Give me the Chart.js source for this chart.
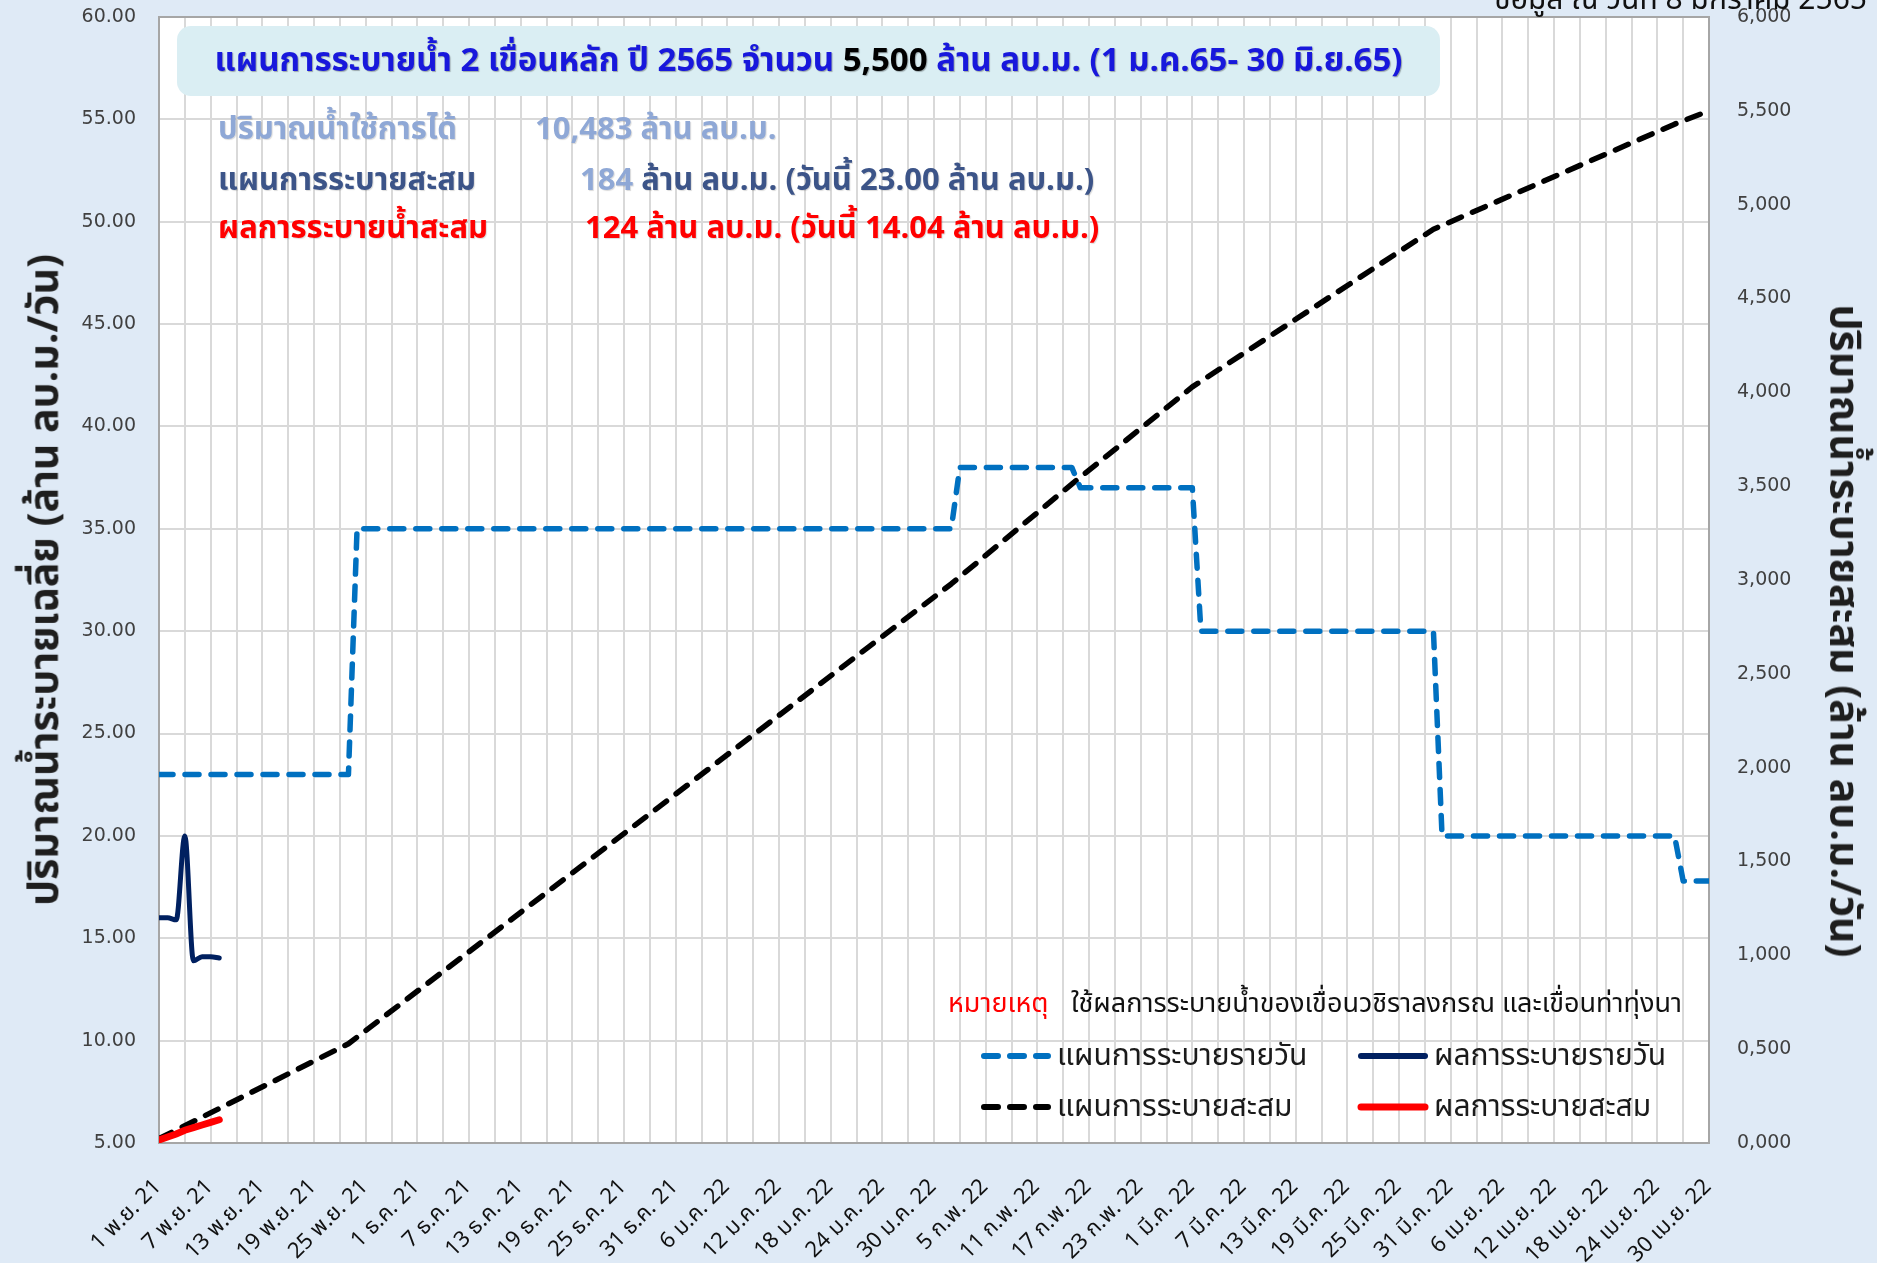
<!DOCTYPE html>
<html lang="th">
<head>
<meta charset="utf-8">
<title>แผนการระบายน้ำ 2 เขื่อนหลัก ปี 2565</title>
<script src="https://cdn.jsdelivr.net/npm/chart.js@4.4.1/dist/chart.umd.min.js"></script>
<style>
  html, body { margin: 0; padding: 0; background: #DFEAF6; overflow: hidden; }
  #wrap { position: relative; width: 1877px; height: 1263px; overflow: hidden; }
  #chart { position: absolute; left: 0; top: 0; }
  .txt {
    position: absolute; white-space: nowrap; line-height: 1;
    font-family: "Noto Sans Thai", Tahoma, "Noto Sans", sans-serif;
    transform: translateY(-50%);
  }
  #titleBox {
    position: absolute; left: 177px; top: 26px; width: 1263px; height: 70px;
    background: #DAEEF3; border-radius: 14px;
  }
  #titleText {
    left: 0; width: 1263px; text-align: center; top: 35px;
    font-size: 33px; font-weight: bold; color: #1818DC;
    text-shadow: 1px 1px 1px rgba(0,0,0,0.3);
  }
  .info { font-size: 31px; font-weight: bold; text-shadow: 1px 1px 1px rgba(0,0,0,0.15); }
  .axisTitle { font-size: 41px; font-weight: bold; color: #1e1e1e; transform-origin: center center; }
  .leg { font-size: 30px; color: #1a1a1a; }
  svg.sample { position: absolute; }
</style>
</head>
<body>
<div id="wrap">
  <canvas id="chart" width="1877" height="1263"></canvas>

  <div class="txt" style="right: 10px; top: 0px; font-size: 30px; color: #111;">ข้อมูล ณ วันที่ 8 มกราคม 2565</div>

  <div id="titleBox">
    <div id="titleText" class="txt">แผนการระบายน้ำ 2 เขื่อนหลัก ปี 2565 จำนวน <span style="color:#000">5,500</span> ล้าน ลบ.ม. (1 ม.ค.65- 30 มิ.ย.65)</div>
  </div>

  <div class="txt info" style="left: 218px; top: 129px; color: #8FA8D6;">ปริมาณน้ำใช้การได้</div>
  <div class="txt info" style="left: 535px; top: 129px; color: #8FA8D6;">10,483 ล้าน ลบ.ม.</div>
  <div class="txt info" style="left: 218px; top: 180px; color: #3C5488;">แผนการระบายสะสม</div>
  <div class="txt info" style="left: 580px; top: 180px; color: #3C5488;"><span style="color:#8FA8D6">184</span> ล้าน ลบ.ม. (วันนี้ 23.00 ล้าน ลบ.ม.)</div>
  <div class="txt info" style="left: 218px; top: 228px; color: #FF0000;">ผลการระบายน้ำสะสม</div>
  <div class="txt info" style="left: 585px; top: 228px; color: #FF0000;">124 ล้าน ลบ.ม. (วันนี้ 14.04 ล้าน ลบ.ม.)</div>

  <div class="txt axisTitle" id="leftTitle">ปริมาณน้ำระบายเฉลี่ย (ล้าน ลบ.ม./วัน)</div>
  <div class="txt axisTitle" id="rightTitle">ปริมาณน้ำระบายสะสม (ล้าน ลบ.ม./วัน)</div>

  <div class="txt" style="left: 948px; top: 1003px; font-size: 27px; color: #FF0000;">หมายเหตุ</div>
  <div class="txt" style="left: 1071px; top: 1003px; font-size: 27px; color: #111;">ใช้ผลการระบายน้ำของเขื่อนวชิราลงกรณ และเขื่อนท่าทุ่งนา</div>

  <svg class="sample" style="left: 980px; top: 1046px;" width="72" height="20"><line x1="4" y1="10" x2="68" y2="10" stroke="#0070C0" stroke-width="6" stroke-linecap="round" stroke-dasharray="14 12"/></svg>
  <div class="txt leg" style="left: 1057px; top: 1056px;">แผนการระบายรายวัน</div>
  <svg class="sample" style="left: 1357px; top: 1046px;" width="72" height="20"><line x1="4" y1="10" x2="68" y2="10" stroke="#002060" stroke-width="6" stroke-linecap="round"/></svg>
  <div class="txt leg" style="left: 1434px; top: 1056px;">ผลการระบายรายวัน</div>
  <svg class="sample" style="left: 980px; top: 1097px;" width="72" height="20"><line x1="4" y1="10" x2="68" y2="10" stroke="#000" stroke-width="6" stroke-linecap="round" stroke-dasharray="14 12"/></svg>
  <div class="txt leg" style="left: 1057px; top: 1107px;">แผนการระบายสะสม</div>
  <svg class="sample" style="left: 1357px; top: 1097px;" width="72" height="20"><line x1="4" y1="10" x2="68" y2="10" stroke="#FF0000" stroke-width="7" stroke-linecap="round"/></svg>
  <div class="txt leg" style="left: 1434px; top: 1107px;">ผลการระบายสะสม</div>
</div>

<script>
// x tick labels, one every 6 days starting 1 Nov
const tickLabels = [
  '1 พ.ย. 21', '7 พ.ย. 21', '13 พ.ย. 21', '19 พ.ย. 21', '25 พ.ย. 21',
  '1 ธ.ค. 21', '7 ธ.ค. 21', '13 ธ.ค. 21', '19 ธ.ค. 21', '25 ธ.ค. 21', '31 ธ.ค. 21',
  '6 ม.ค. 22', '12 ม.ค. 22', '18 ม.ค. 22', '24 ม.ค. 22', '30 ม.ค. 22',
  '5 ก.พ. 22', '11 ก.พ. 22', '17 ก.พ. 22', '23 ก.พ. 22',
  '1 มี.ค. 22', '7 มี.ค. 22', '13 มี.ค. 22', '19 มี.ค. 22', '25 มี.ค. 22', '31 มี.ค. 22',
  '6 เม.ย. 22', '12 เม.ย. 22', '18 เม.ย. 22', '24 เม.ย. 22', '30 เม.ย. 22'
];

// daily release plan (day index, million m3/day) - break points of the step line
const planDay   = [0, 22, 23, 92, 93, 106, 107, 120, 121, 148, 149, 176, 177, 180];
const planDaily = [23, 23, 35, 35, 38, 38, 37, 37, 30, 30, 20, 20, 17.8, 17.8];

// cumulative plan (day index, million m3)
const cumDay  = [0, 22, 92, 106, 120, 148, 176, 180];
const planCum = [23, 529, 2979, 3511, 4029, 4869, 5429, 5500];

// actual releases so far
const actualDay   = [0, 1, 2, 3, 4, 5, 6, 7];
const actualDaily = [16.0, 16.0, 15.9, 20.0, 13.9, 14.1, 14.1, 14.04];
const actualCum   = [16.0, 32.0, 47.9, 67.9, 81.8, 95.9, 110.0, 124.0];

const pts = (xs, ys) => xs.map((x, i) => ({ x: x, y: ys[i] }));

// axis titles are plain divs, rotated into place
const lt = document.getElementById('leftTitle');
lt.style.left = (45 - lt.offsetWidth / 2) + 'px';
lt.style.top = '580px';
lt.style.transform = 'translateY(-50%) rotate(-90deg)';
const rt = document.getElementById('rightTitle');
rt.style.left = (1843 - rt.offsetWidth / 2) + 'px';
rt.style.top = '631px';
rt.style.transform = 'translateY(-50%) rotate(90deg)';

const plotArea = {
  id: 'plotArea',
  beforeDraw(chart) {
    const { ctx, chartArea: a } = chart;
    ctx.save();
    ctx.fillStyle = '#FFFFFF';
    ctx.fillRect(a.left, a.top, a.width, a.height);
    ctx.restore();
  },
  beforeDatasetsDraw(chart) {
    const { ctx, chartArea: a } = chart;
    ctx.save();
    ctx.strokeStyle = '#A6A6A6';
    ctx.lineWidth = 2;
    ctx.strokeRect(a.left, a.top, a.width, a.height);
    ctx.restore();
  }
};

const tickFont = { family: 'DejaVu Sans', size: 19 };
const gridColor = '#D9D9D9';

// fixed axis sizes so the plot sits where it should
const fitY = w => s => { s.width = w; s.paddingTop = 0; s.paddingBottom = 0; };

new Chart(document.getElementById('chart'), {
  type: 'line',
  data: {
    datasets: [
      {
        label: 'ผลการระบายรายวัน',
        data: pts(actualDay, actualDaily),
        yAxisID: 'y',
        borderColor: '#002060',
        borderWidth: 5,
        cubicInterpolationMode: 'monotone',
        borderCapStyle: 'round',
        borderJoinStyle: 'round',
        pointRadius: 0,
        order: 0
      },
      {
        label: 'ผลการระบายสะสม',
        data: pts(actualDay, actualCum),
        yAxisID: 'y2',
        borderColor: '#FF0000',
        borderWidth: 7,
        borderCapStyle: 'round',
        pointRadius: 0,
        order: 1
      },
      {
        label: 'แผนการระบายรายวัน',
        data: pts(planDay, planDaily),
        yAxisID: 'y',
        borderColor: '#0070C0',
        borderWidth: 5.5,
        borderDash: [14, 12],
        borderCapStyle: 'round',
        borderJoinStyle: 'round',
        pointRadius: 0,
        order: 2
      },
      {
        label: 'แผนการระบายสะสม',
        data: pts(cumDay, planCum),
        yAxisID: 'y2',
        borderColor: '#000000',
        borderWidth: 5.5,
        borderDash: [14, 12],
        borderCapStyle: 'round',
        borderJoinStyle: 'round',
        pointRadius: 0,
        order: 3
      }
    ]
  },
  options: {
    responsive: false,
    animation: false,
    layout: { padding: { top: 17, left: 0, right: 0, bottom: 0 } },
    plugins: {
      legend: { display: false },
      tooltip: { enabled: false }
    },
    scales: {
      x: {
        type: 'linear',
        min: 0,
        max: 180,
        afterFit: s => { s.height = 120; },
        border: { display: false },
        grid: { color: gridColor, lineWidth: 2, drawTicks: false },
        ticks: {
          stepSize: 3,
          autoSkip: false,
          minRotation: 45,
          maxRotation: 45,
          padding: 32,
          color: '#111111',
          font: { family: '"Noto Sans Thai", Tahoma, "Noto Sans", sans-serif', size: 22 },
          callback: v => (Math.round(v) % 6 === 0 ? tickLabels[Math.round(v) / 6] : '')
        }
      },
      y: {
        position: 'left',
        min: 5,
        max: 60,
        afterFit: fitY(159),
        border: { display: false },
        grid: { color: gridColor, lineWidth: 2, drawTicks: false },
        ticks: {
          stepSize: 5,
          padding: 23,
          color: '#404040',
          font: tickFont,
          callback: v => v.toFixed(2)
        }
      },
      y2: {
        position: 'right',
        min: 0,
        max: 6000,
        afterFit: fitY(168),
        border: { display: false },
        grid: { display: false, drawTicks: false },
        ticks: {
          stepSize: 500,
          padding: 28,
          color: '#404040',
          font: tickFont,
          callback: v => Math.floor(v / 1000) + ',' + String(v % 1000).padStart(3, '0')
        }
      }
    }
  },
  plugins: [plotArea]
});
</script>
</body>
</html>
